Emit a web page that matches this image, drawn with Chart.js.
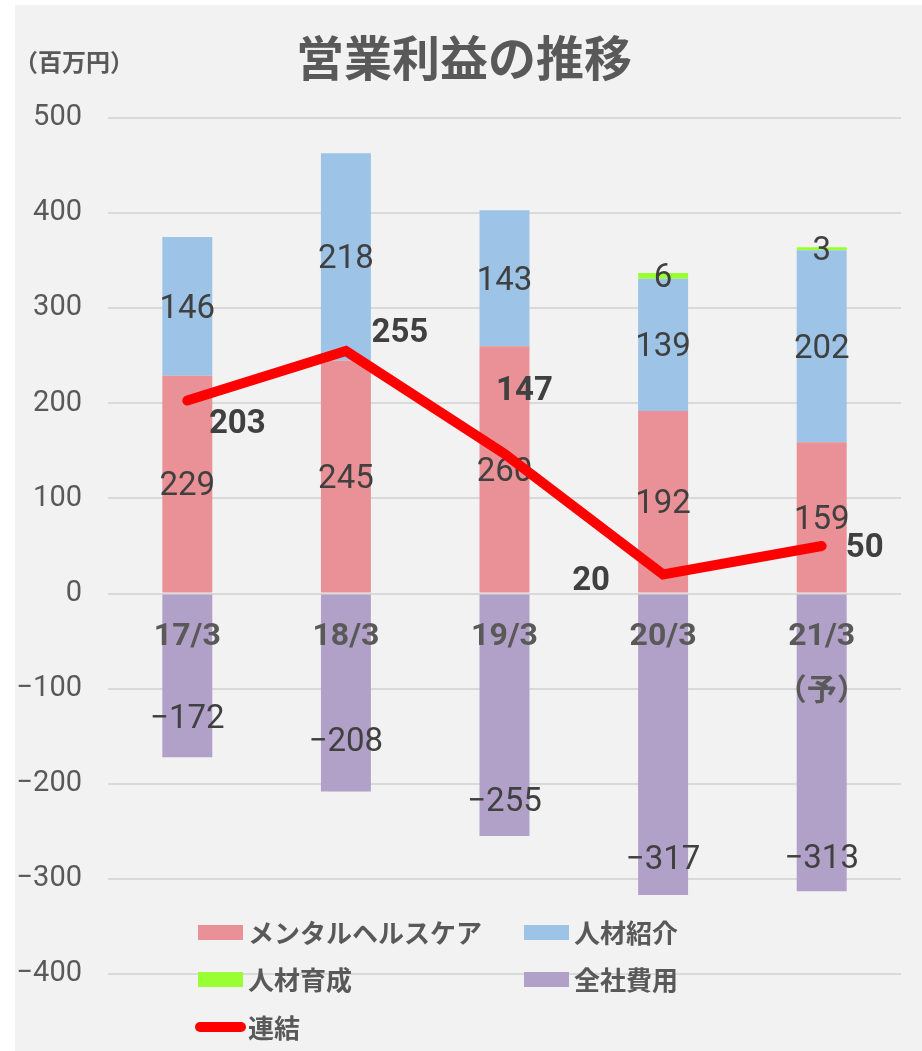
<!DOCTYPE html>
<html lang="ja">
<head>
<meta charset="utf-8">
<script src="https://cdn.jsdelivr.net/npm/chart.js@4.4.0/dist/chart.umd.min.js"></script>
<style>
  html, body { margin: 0; padding: 0; background: #fff; }
  #wrap { width: 922px; height: 1051px; }
</style>
</head>
<body>
<div id="wrap"><canvas id="chart" width="922" height="1051"></canvas></div>
<script>
// data
const categories   = [['17/3'], ['18/3'], ['19/3'], ['20/3'], ['21/3', '（予）']];
const mentalHealth = [229, 245, 260, 192, 159];
const recruiting   = [146, 218, 143, 139, 202];
const training     = [null, null, null, 6, 3];
const corporate    = [-172, -208, -255, -317, -313];
const consolidated = [203, 255, 147, 20, 50];
const yMin = -400, yMax = 500, yStep = 100;

const TEXT = '#595959';
const LABEL = '#404040';
const fmt = v => (v < 0 ? '−' + Math.abs(v) : String(v));

// label placement (style only)
const lineLabelShift = [[50, 24], [54, -17], [20, -62], [-72, 7], [43, 3]];
const corporateLabelLift = [40, 52, 36, 37, 35];

const legendItems = [
  { text: 'メンタルヘルスケア', color: '#E99196', x: 198, y: 932 },
  { text: '人材紹介',           color: '#9DC3E6', x: 524, y: 932 },
  { text: '人材育成',           color: '#99FF33', x: 198, y: 979 },
  { text: '全社費用',           color: '#B1A0C7', x: 524, y: 979 },
  { text: '連結',               color: '#FF0000', x: 198, y: 1027, line: true },
];

function drawBarLabels(chart) {
  const ctx = chart.ctx;
  ctx.save();
  ctx.font = '33px Roboto';
  ctx.fillStyle = LABEL;
  ctx.textAlign = 'center';
  ctx.textBaseline = 'middle';
  chart.data.datasets.forEach((ds, di) => {
    if (ds.type === 'line') return;
    chart.getDatasetMeta(di).data.forEach((el, i) => {
      const v = ds.data[i];
      if (v == null) return;
      const y = v < 0 ? el.y - corporateLabelLift[i] : (el.y + el.base) / 2;
      ctx.fillText(fmt(v), el.x, y + 3);
    });
  });
  ctx.restore();
}

const decor = {
  id: 'decor',
  beforeDraw(chart) {
    const ctx = chart.ctx;
    ctx.save();
    ctx.fillStyle = '#f2f2f2';
    ctx.fillRect(15, 5, chart.width - 15, chart.height - 5);
    ctx.restore();
  },
  // dataset 1 is the last bar series painted, before the line on top
  afterDatasetDraw(chart, args) {
    if (args.index === 1) drawBarLabels(chart);
  },
  afterDatasetsDraw(chart) {
    const ctx = chart.ctx;
    const zero = chart.scales.y.getPixelForValue(0);
    ctx.save();
    ctx.textAlign = 'center';
    ctx.textBaseline = 'middle';

    // category labels under the zero line
    ctx.fillStyle = TEXT;
    const barMeta = chart.getDatasetMeta(1);
    categories.forEach((lines, i) => {
      const x = barMeta.data[i].x;
      lines.forEach((t, k) => {
        ctx.font = k > 0 ? 'bold 30px "Noto Sans CJK JP"' : 'bold 32px Roboto';
        ctx.fillText(t, x, zero + 43 + k * 52);
      });
    });

    // 連結 labels
    const lineMeta = chart.getDatasetMeta(0);
    ctx.font = 'bold 33px Roboto';
    ctx.fillStyle = LABEL;
    lineMeta.data.forEach((pt, i) => {
      const [dx, dy] = lineLabelShift[i];
      ctx.fillText(fmt(consolidated[i]), pt.x + dx, pt.y + dy);
    });
    ctx.restore();
  },
  afterDraw(chart) {
    const ctx = chart.ctx;
    ctx.save();
    // title and unit
    ctx.fillStyle = TEXT;
    ctx.textBaseline = 'middle';
    ctx.textAlign = 'center';
    ctx.font = 'bold 48px "Noto Sans CJK JP"';
    ctx.fillText('営業利益の推移', 464, 58);
    ctx.textAlign = 'left';
    ctx.font = 'bold 24px "Noto Sans CJK JP"';
    ctx.fillText('（百万円）', 14, 62);

    // legend
    ctx.font = 'bold 26px "Noto Sans CJK JP"';
    legendItems.forEach(it => {
      if (it.line) {
        ctx.strokeStyle = it.color;
        ctx.lineWidth = 10;
        ctx.lineCap = 'round';
        ctx.beginPath();
        ctx.moveTo(it.x + 2, it.y);
        ctx.lineTo(it.x + 43, it.y);
        ctx.stroke();
      } else {
        ctx.fillStyle = it.color;
        ctx.fillRect(it.x, it.y - 7, 45, 15);
      }
      ctx.fillStyle = TEXT;
      ctx.fillText(it.text, it.x + 50, it.y + 1);
    });
    ctx.restore();
  },
};

new Chart(document.getElementById('chart'), {
  type: 'bar',
  data: {
    labels: categories,
    datasets: [
      {
        type: 'line',
        label: '連結',
        data: consolidated,
        borderColor: '#FF0000',
        borderWidth: 10,
        borderCapStyle: 'round',
        borderJoinStyle: 'miter',
        pointRadius: 0,
        tension: 0,
        fill: false,
      },
      { label: 'メンタルヘルスケア', data: mentalHealth, backgroundColor: '#E99196' },
      { label: '人材紹介',           data: recruiting,   backgroundColor: '#9DC3E6' },
      { label: '人材育成',           data: training,     backgroundColor: '#99FF33' },
      { label: '全社費用',           data: corporate,    backgroundColor: '#B1A0C7' },
    ],
  },
  options: {
    responsive: false,
    animation: false,
    layout: { padding: { top: 118, bottom: 77, right: 21, left: 0 } },
    datasets: { bar: { categoryPercentage: 1, barPercentage: 0.315 } },
    plugins: {
      legend: { display: false },
      tooltip: { enabled: false },
    },
    scales: {
      x: { stacked: true, display: false },
      y: {
        stacked: true,
        min: yMin,
        max: yMax,
        afterFit(scale) { scale.width = 108; },
        border: { display: false },
        grid: { color: '#d9d9d9', lineWidth: 2, drawTicks: false },
        ticks: {
          stepSize: yStep,
          padding: 26,
          color: TEXT,
          font: { family: 'Roboto', size: 29 },
          callback: v => fmt(v),
        },
      },
    },
  },
  plugins: [decor],
});
</script>
</body>
</html>
